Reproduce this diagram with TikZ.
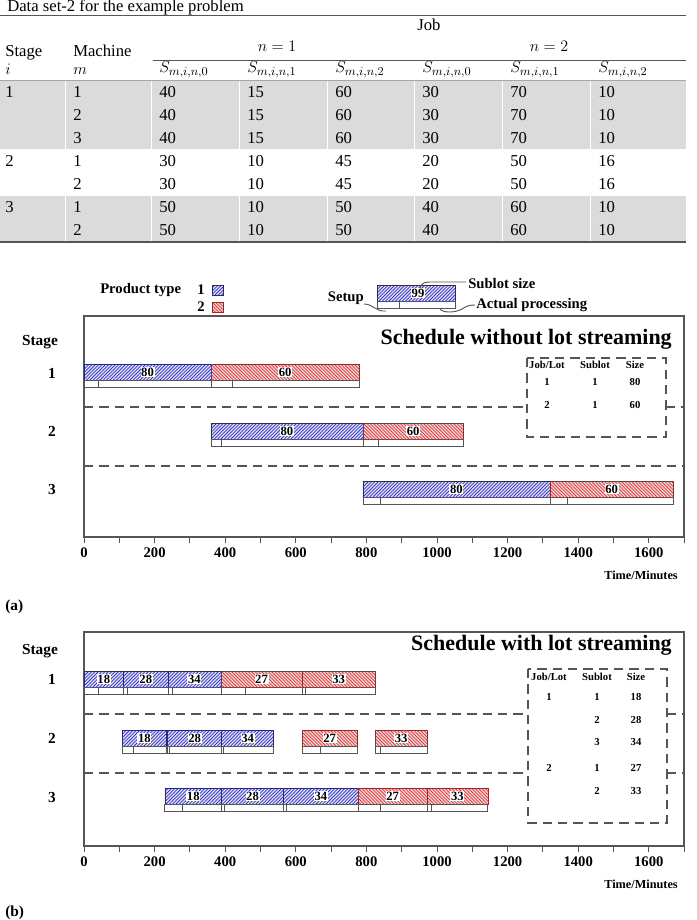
\documentclass[tikz,border=0pt]{standalone}
\usepackage{fontspec}
\setmainfont{Liberation Serif}
\usetikzlibrary{patterns}
\pgfdeclarepatternformonly{hatchne}{\pgfqpoint{-1pt}{-1pt}}{\pgfqpoint{4pt}{4pt}}{\pgfqpoint{2.5pt}{2.5pt}}{%
  \pgfsetlinewidth{0.55pt}%
  \pgfpathmoveto{\pgfqpoint{0pt}{0pt}}%
  \pgfpathlineto{\pgfqpoint{2.6pt}{2.6pt}}%
  \pgfusepath{stroke}}
\pgfdeclarepatternformonly{hatchnw}{\pgfqpoint{-1pt}{-1pt}}{\pgfqpoint{4pt}{4pt}}{\pgfqpoint{2.5pt}{2.5pt}}{%
  \pgfsetlinewidth{0.55pt}%
  \pgfpathmoveto{\pgfqpoint{0pt}{2.5pt}}%
  \pgfpathlineto{\pgfqpoint{2.6pt}{-0.1pt}}%
  \pgfusepath{stroke}}
\definecolor{blueH}{RGB}{55,55,195}
\definecolor{blueBg}{RGB}{225,225,250}
\definecolor{blueE}{RGB}{40,40,120}
\definecolor{redH}{RGB}{210,65,65}
\definecolor{redBg}{RGB}{248,212,212}
\definecolor{redE}{RGB}{140,45,45}
\definecolor{tgrey}{RGB}{219,219,219}
\definecolor{lineC}{RGB}{85,85,85}
\newcommand\gbar[6]{%
  \pgfmathsetmacro\gxa{84+0.353*#2}%
  \pgfmathsetmacro\gxs{84+0.353*#3}%
  \pgfmathsetmacro\gxb{84+0.353*#4}%
  \pgfmathsetmacro\gxm{(\gxa+\gxb)/2}%
  \path[#5] ({\gxa},{#1}) rectangle ({\gxb},{#1+16});
  \draw[stripbox] ({\gxa},{#1+16}) rectangle ({\gxb},{#1+23});
  \draw[stripbox] ({\gxs},{#1+16}) -- ({\gxs},{#1+23});
  \node[barlbl] at ({\gxm},{#1+8}) {#6};
}
\begin{document}
\begin{tikzpicture}[x=0.75pt,y=-0.75pt,
  tbl/.style={font=\fontsize{12.5}{14}\selectfont, inner sep=0pt, anchor=base west},
  bluebar/.style={draw=blueE, line width=0.5pt, preaction={fill=blueBg}, pattern=hatchne, pattern color=blueH},
  redbar/.style={draw=redE, line width=0.5pt, preaction={fill=redBg}, pattern=hatchnw, pattern color=redH},
  stripbox/.style={draw=lineC, line width=0.55pt},
  barlbl/.style={font=\bfseries\fontsize{9.5}{10}\selectfont, fill=white, inner sep=0.5pt},
  dashln/.style={draw=lineC, dash pattern=on 7pt off 4.5pt, line width=0.8pt},
  frame/.style={draw=lineC, line width=0.9pt},
  axlbl/.style={font=\bfseries\fontsize{11}{12}\selectfont, inner sep=0pt},
  stlbl/.style={font=\bfseries\fontsize{11.5}{12}\selectfont, inner sep=0pt},
  inlbl/.style={font=\bfseries\fontsize{8}{9}\selectfont, inner sep=0pt},
  lgd/.style={font=\bfseries\fontsize{11}{12}\selectfont, inner sep=0pt},
  ttl/.style={font=\bfseries\fontsize{16.5}{18}\selectfont, inner sep=0pt, anchor=base east}]
\useasboundingbox (0,0) rectangle (696,920);
% ================= TABLE =================
\node[tbl] (title) at (7,12) {Data set-2 for the example problem};
\draw[lineC, line width=0.8pt] (0,15.5) -- (686,15.5);
\fill[tgrey] (0,80.5) rectangle (686,149.5);
\fill[tgrey] (0,195.5) rectangle (686,241.5);
\foreach \xx in {65,151,239,327,414,502,590}{
  \draw[white, line width=0.5pt] (\xx,80.5) -- (\xx,149.5);
  \draw[white, line width=0.5pt] (\xx,195.5) -- (\xx,241.5);}
\draw[gray!70, line width=0.5pt] (0,80.5) -- (686,80.5);
\draw[lineC, line width=0.8pt] (0,242) -- (686,242);
\draw[gray!70!black, line width=0.6pt] (153,60) -- (686,60);
\node[tbl, anchor=base] (job) at (429,31) {Job};
\node[tbl, anchor=base] (n1) at (277,52) {$n=1$};
\node[tbl, anchor=base] (n2) at (549,52) {$n=2$};
\node[tbl] (stg) at (5,57) {Stage};
\node[tbl] (mac) at (73,57) {Machine};
\node[tbl] (ii) at (5,75) {$i$};
\node[tbl] (mm) at (73,75) {$m$};
\foreach \cx/\sub [count=\k] in {159/0,247/1,335/2,422/0,510/1,598/2}
  \node[tbl] (s\k) at (\cx,73) {$S_{m,i,n,\sub}$};
\foreach \yy/\st/\mc/\a/\b/\c/\d/\e/\f [count=\r] in {
  97.5/1/1/40/15/60/30/70/10,
  120.5//2/40/15/60/30/70/10,
  143.5//3/40/15/60/30/70/10,
  166.5/2/1/30/10/45/20/50/16,
  189.5//2/30/10/45/20/50/16,
  212.5/3/1/50/10/50/40/60/10,
  235.5//2/50/10/50/40/60/10}{
  \node[tbl] (st\r) at (5,\yy) {\st};
  \node[tbl] (mc\r) at (73,\yy) {\mc};
  \node[tbl] (va\r) at (159,\yy) {\a};
  \node[tbl] (vb\r) at (247,\yy) {\b};
  \node[tbl] (vc\r) at (335,\yy) {\c};
  \node[tbl] (vd\r) at (422,\yy) {\d};
  \node[tbl] (ve\r) at (510,\yy) {\e};
  \node[tbl] (vf\r) at (598,\yy) {\f};
}
% ================= LEGEND =================
\node[lgd, anchor=west] (ptype) at (100,290) {Product type};
\node[lgd] (p1) at (201,290) {1};
\node[lgd] (p2) at (201,307) {2};
\path[bluebar] (212,285) rectangle (223,295);
\path[redbar] (212,302) rectangle (223,312);
\path[bluebar] (377,285) rectangle (455,301);
\draw[stripbox] (377,301) rectangle (455,308);
\draw[stripbox] (399,301) -- (399,308);
\node[barlbl] (n99) at (418,293) {99};
\node[lgd, anchor=east] (setup) at (364,298) {Setup};
\node[lgd, anchor=west] (ssize) at (468,283) {Sublot size};
\node[lgd, anchor=west] (aproc) at (476,305) {Actual processing};
\draw[lineC, line width=0.7pt] (364,304) .. controls (373,304) and (376,312) .. (386,311);
\draw[lineC, line width=0.7pt] (420,288) .. controls (422,282) and (425,282) .. (433,282) -- (466,282);
\draw[lineC, line width=0.7pt] (440,309) .. controls (443,313) and (455,313) .. (462,309) .. controls (466,306) and (470,305) .. (475,305);
% ================= CHART (a) =================
\draw[frame] (84,316) rectangle (684,537);
\node[ttl] (ta) at (672,344) {Schedule without lot streaming};
\node[stlbl] (sa) at (40,342) {Stage};
\node[stlbl] (sa1) at (52,373) {1};
\node[stlbl] (sa2) at (52,431) {2};
\node[stlbl] (sa3) at (52,489) {3};
\draw[dashln] (84,407) -- (527,407);
\draw[dashln] (666,407) -- (684,407);
\draw[dashln] (84,466) -- (684,466);
\draw[dashln] (527,358) rectangle (666,437);
\node[inlbl] (ah1) at (547,365) {Job/Lot};
\node[inlbl] (ah2) at (595,365) {Sublot};
\node[inlbl] (ah3) at (635,365) {Size};
\node[inlbl] (ar1) at (547,382) {1};
\node[inlbl] (ar2) at (595,382) {1};
\node[inlbl] (ar3) at (635,382) {80};
\node[inlbl] (ar4) at (547,405) {2};
\node[inlbl] (ar5) at (595,405) {1};
\node[inlbl] (ar6) at (635,405) {60};
\gbar{364}{0}{40}{360}{bluebar}{80}
\gbar{364}{360}{420}{780}{redbar}{60}
\gbar{423}{360}{390}{790}{bluebar}{80}
\gbar{423}{790}{835}{1075}{redbar}{60}
\gbar{481}{790}{840}{1320}{bluebar}{80}
\gbar{481}{1320}{1370}{1670}{redbar}{60}
\foreach \t in {0,100,...,1700}
  \draw[lineC, line width=0.7pt] ({84+0.353*\t},537) -- ({84+0.353*\t},543);
\foreach \t in {0,200,...,1600}
  \node[axlbl] at ({84+0.353*\t},553) {\t};
\node[font=\bfseries\fontsize{9.2}{10}\selectfont, inner sep=0pt, anchor=east] (tma) at (678,575) {Time/Minutes};
\node[font=\bfseries\fontsize{11.5}{12}\selectfont, inner sep=0pt, anchor=west] (capa) at (5,607) {(a)};
% ================= CHART (b) =================
\draw[frame] (84,632) rectangle (684,846);
\node[ttl] (tb) at (672,650) {Schedule with lot streaming};
\node[stlbl] (sb) at (40,651) {Stage};
\node[stlbl] (sb1) at (52,679) {1};
\node[stlbl] (sb2) at (52,738) {2};
\node[stlbl] (sb3) at (52,797) {3};
\draw[dashln] (84,714) -- (528,714);
\draw[dashln] (667,714) -- (684,714);
\draw[dashln] (84,773) -- (528,773);
\draw[dashln] (667,773) -- (684,773);
\draw[dashln] (528,669) rectangle (667,823);
\node[inlbl] (bh1) at (549,677) {Job/Lot};
\node[inlbl] (bh2) at (597,677) {Sublot};
\node[inlbl] (bh3) at (636,677) {Size};
\foreach \yy/\jl/\sl/\sz [count=\r] in {697/1/1/18,720//2/28,742//3/34,768/2/1/27,791//2/33}{
  \node[inlbl] (bj\r) at (549,\yy) {\jl};
  \node[inlbl] (bs\r) at (597,\yy) {\sl};
  \node[inlbl] (bz\r) at (636,\yy) {\sz};
}
\gbar{671}{0}{40}{112}{bluebar}{18}
\gbar{671}{112}{124}{238}{bluebar}{28}
\gbar{671}{238}{249}{388}{bluebar}{34}
\gbar{671}{388}{457}{618}{redbar}{27}
\gbar{671}{618}{627}{825}{redbar}{33}
\gbar{730}{110}{139}{232}{bluebar}{18}
\gbar{730}{237}{243}{390}{bluebar}{28}
\gbar{730}{390}{395}{537}{bluebar}{34}
\gbar{730}{618}{669}{774}{redbar}{27}
\gbar{730}{825}{840}{972}{redbar}{33}
\gbar{788}{229}{280}{390}{bluebar}{18}
\gbar{788}{390}{398}{565}{bluebar}{28}
\gbar{788}{565}{574}{777}{bluebar}{34}
\gbar{788}{777}{839}{972}{redbar}{27}
\gbar{788}{972}{983}{1144}{redbar}{33}
\foreach \t in {0,100,...,1700}
  \draw[lineC, line width=0.7pt] ({84+0.353*\t},846) -- ({84+0.353*\t},852);
\foreach \t in {0,200,...,1600}
  \node[axlbl] at ({84+0.353*\t},862) {\t};
\node[font=\bfseries\fontsize{9.2}{10}\selectfont, inner sep=0pt, anchor=east] (tmb) at (678,884) {Time/Minutes};
\node[font=\bfseries\fontsize{11.5}{12}\selectfont, inner sep=0pt, anchor=west] (capb) at (5,913) {(b)};
\end{tikzpicture}
\end{document}
